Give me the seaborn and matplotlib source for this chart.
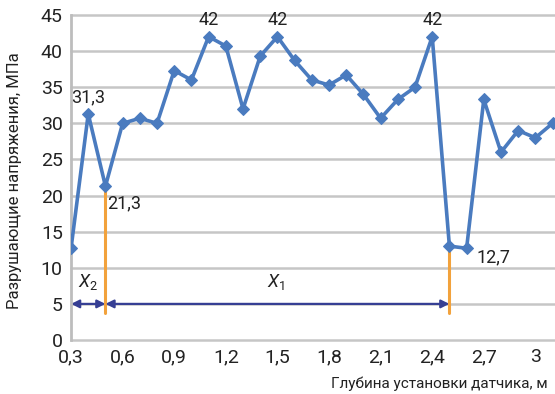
import matplotlib
matplotlib.use("Agg")
import matplotlib.pyplot as plt
import seaborn as sns
import pandas as pd

# Sensor installation depth, m
depth = [0.3, 0.4, 0.5, 0.6, 0.7, 0.8, 0.9, 1.0, 1.1, 1.2, 1.3, 1.4, 1.5, 1.6, 1.7,
         1.8, 1.9, 2.0, 2.1, 2.2, 2.3, 2.4, 2.5, 2.6, 2.7, 2.8, 2.9, 3.0, 3.1]
# Breaking stress, MPa
stress = [12.7, 31.3, 21.3, 30.0, 30.7, 30.0, 37.3, 36.0, 42.0, 40.7, 32.0, 39.3, 42.0, 38.7, 36.0,
          35.3, 36.7, 34.0, 30.7, 33.3, 35.0, 42.0, 13.0, 12.7, 33.3, 26.0, 29.0, 28.0, 30.0]

x_ticks = [0.3, 0.6, 0.9, 1.2, 1.5, 1.8, 2.1, 2.4, 2.7, 3.0]
x_tick_labels = ["0,3", "0,6", "0,9", "1,2", "1,5", "1,8", "2,1", "2,4", "2,7", "3"]
y_ticks = [0, 5, 10, 15, 20, 25, 30, 35, 40, 45]

# Labelled points: (depth, stress, text)
value_labels = [(0.4, 31.3, "31,3"), (1.1, 42.0, "42"), (1.5, 42.0, "42"), (2.4, 42.0, "42")]
low_labels = [(0.5, 21.3, "21,3"), (2.6, 12.7, "12,7")]
# Zone boundaries and zone extents
boundaries = [(0.5, 21.3), (2.5, 13.0)]
zone_x2 = (0.3, 0.5)
zone_x1 = (0.5, 2.5)

sns.set_theme(style="white")
plt.rcParams["font.family"] = ["Roboto", "DejaVu Sans"]
plt.rcParams["mathtext.fontset"] = "custom"
plt.rcParams["mathtext.it"] = "Roboto:italic"
plt.rcParams["mathtext.rm"] = "Roboto"

line_color = "#4a7bbf"
arrow_color = "#363f94"
orange = "#f2a23c"
grid_color = "#c6c6c6"
text_color = "#222222"

fig = plt.figure(figsize=(5.55, 3.94), dpi=100)
ax = fig.add_axes([0.128, 0.137, 0.872, 0.825])

# Horizontal grid
for yv in y_ticks:
    ax.axhline(yv, color=grid_color, lw=1.8, zorder=0, clip_on=False)

# Zone boundary lines
for bx, by in boundaries:
    ax.plot([bx, bx], [3.8, by], color=orange, lw=2.2, zorder=1)

df = pd.DataFrame({"depth": depth, "stress": stress})
sns.lineplot(data=df, x="depth", y="stress", ax=ax, color=line_color, lw=2.6,
             marker="D", markersize=6, markeredgecolor=line_color, zorder=3)

# Zone arrows
for (x0, x1) in (zone_x2, zone_x1):
    ax.annotate("", xy=(x0, 5), xytext=(x1, 5),
                arrowprops=dict(arrowstyle="<|-|>", color=arrow_color, lw=1.6,
                                shrinkA=0, shrinkB=0, mutation_scale=12),
                zorder=2)
ax.text(0.4, 6.6, r"$X_2$", ha="center", va="bottom", fontsize=13, color=text_color)
ax.text(1.49, 6.6, r"$X_1$", ha="center", va="bottom", fontsize=13, color=text_color)

for lx, ly, t in value_labels:
    ax.text(lx, ly + 1.0, t, ha="center", va="bottom", fontsize=13, color=text_color)
ax.text(low_labels[0][0] + 0.01, low_labels[0][1] - 1.2, low_labels[0][2],
        ha="left", va="top", fontsize=13, color=text_color)
ax.text(low_labels[1][0] + 0.06, low_labels[1][1] - 1.2, low_labels[1][2],
        ha="left", va="center", fontsize=13, color=text_color)

ax.set_xlim(0.3, 3.114)
ax.set_ylim(0, 45)
ax.set_xticks(x_ticks)
ax.set_xticklabels(x_tick_labels)
ax.set_yticks(y_ticks)
ax.tick_params(axis="both", length=0, labelsize=14, colors=text_color)
ax.tick_params(axis="x", pad=6)
ax.tick_params(axis="y", pad=6)

for s in ["top", "right", "bottom"]:
    ax.spines[s].set_visible(False)
ax.spines["left"].set_color("#bdbdbd")
ax.spines["left"].set_linewidth(2)

ax.set_xlabel("Глубина установки датчика, м", fontsize=11, color=text_color)
ax.xaxis.set_label_coords(0.9855, -0.135)
ax.xaxis.label.set_horizontalalignment("right")
ax.xaxis.label.set_verticalalignment("center")
ax.set_ylabel("Разрушающие напряжения, МПа", fontsize=12, color=text_color)
ax.yaxis.set_label_coords(-0.116, 0.49)
ax.yaxis.label.set_verticalalignment("center")

fig.savefig("out.png", dpi=100)
